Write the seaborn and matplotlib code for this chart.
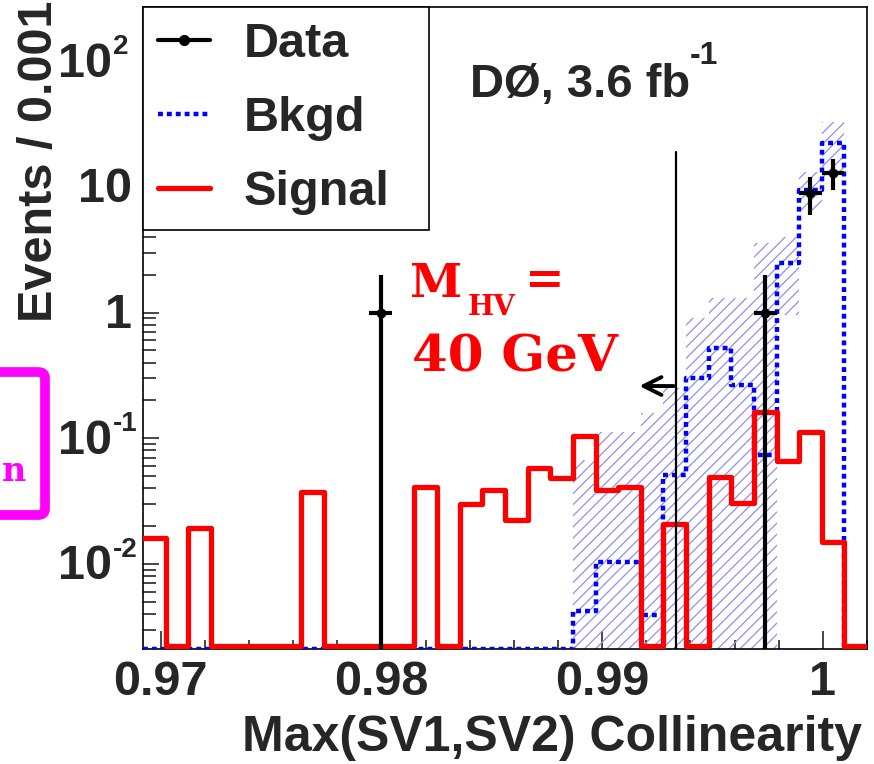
import numpy as np
import pandas as pd
import matplotlib
matplotlib.use("Agg")
import matplotlib.pyplot as plt
from matplotlib.lines import Line2D
from matplotlib.patches import FancyBboxPatch
from matplotlib.transforms import offset_copy
from matplotlib.ticker import FixedLocator, FixedFormatter, MultipleLocator, LogLocator, NullFormatter
import seaborn as sns

# ---- histogram binning -------------------------------------------------
bin_lo, bin_hi, n_bins = 0.9692, 1.002, 32

# ---- per-bin contents (Events / bin) -----------------------------------
signal = [0.016, 0, 0.0192, 0, 0, 0, 0, 0.037, 0, 0, 0, 0, 0.0407, 0, 0.0298, 0.0385,
          0.0222, 0.0577, 0.048, 0.104, 0.039, 0.0407, 0, 0.0207, 0, 0.049, 0.0304, 0.161,
          0.0656, 0.1116, 0.0148, 0]
bkgd = [0, 0, 0, 0, 0, 0, 0, 0, 0, 0, 0, 0, 0, 0, 0, 0,
        0, 0, 0, 0.00425, 0.0103, 0.0103, 0.0039, 0.0507, 0.30, 0.52, 0.264, 0.073,
        2.48, 9.46, 22.4, 0]
bkgd_err_hi = [0, 0, 0, 0, 0, 0, 0, 0, 0, 0, 0, 0, 0, 0, 0, 0,
               0, 0, 0, 0.067, 0.112, 0.112, 0.158, 0.25, 0.90, 1.3, 1.3, 3.6,
               4.0, 13.2, 33.0, 0]
bkgd_err_lo = [0, 0, 0, 0, 0, 0, 0, 0, 0, 0, 0, 0, 0, 0, 0, 0,
               0, 0, 0, 0, 0, 0, 0, 0, 0, 0, 0, 0,
               0.955, 6.6, 11.8, 0]
data = [0, 0, 0, 0, 0, 0, 0, 0, 0, 0, 1, 0, 0, 0, 0, 0,
        0, 0, 0, 0, 0, 0, 0, 0, 0, 0, 0, 1, 0, 9, 13, 0]

x_ticks = [0.97, 0.98, 0.99, 1.0]
x_tick_labels = ["0.97", "0.98", "0.99", "1"]
y_ticks = [1e-2, 1e-1, 1, 10, 100]
y_tick_base = ["10", "10", "1", "10", "10"]
y_tick_exp = ["-2", "-1", "", "", "2"]
y_range = (2.1e-3, 2.7e2)

cut_value = 0.99336
cut_top = 19.0
arrow_tip = 0.99156
arrow_level = 0.26

# ---- style -------------------------------------------------------------
sns.set_style("ticks", {"xtick.direction": "in", "ytick.direction": "in"})
plt.rcParams["font.family"] = ["Liberation Sans", "DejaVu Sans"]
plt.rcParams["font.weight"] = "bold"
plt.rcParams["hatch.linewidth"] = 0.9

W, H = 874, 764
fig = plt.figure(figsize=(W / 100, H / 100), dpi=100)
ax = fig.add_axes([143 / W, 1 - 649 / H, (867 - 143) / W, (649 - 7) / H])
ax.set_yscale("log")

edges = np.linspace(bin_lo, bin_hi, n_bins + 1)
centers = 0.5 * (edges[:-1] + edges[1:])
width = edges[1] - edges[0]

sig = np.array(signal, float)
bkg = np.array(bkgd, float)
ehi = np.array(bkgd_err_hi, float)
elo = np.array(bkgd_err_lo, float)
dat = np.array(data, float)

ymin = y_range[0]


def step_frame(values, floor):
    """Bin contents as a step outline over the bin edges; empty bins lie on the floor."""
    v = np.where(values > 0, values, floor)
    return pd.DataFrame({"edge": edges, "content": np.append(v, v[-1])})


# background uncertainty band (hatched)
hi_plot = np.where(ehi > 0, ehi, 1e-5)
lo_plot = np.where(elo > 0, elo, 1e-5)
ax.fill_between(edges, np.append(lo_plot, lo_plot[-1]), np.append(hi_plot, hi_plot[-1]),
                step="post", facecolor="none", edgecolor="#8f8ff0", hatch="///",
                linewidth=0, zorder=1)

# background and signal histograms
sns.lineplot(data=step_frame(bkg, ymin), x="edge", y="content", drawstyle="steps-post",
             color="#0000ff", linewidth=3.2, linestyle=(0, (1.1, 0.9)), errorbar=None,
             ax=ax, zorder=3)
sns.lineplot(data=step_frame(sig, ymin * 1.05), x="edge", y="content",
             drawstyle="steps-post", color="#ff0000", linewidth=3.8, errorbar=None,
             ax=ax, zorder=4)

# cut line with arrow
ax.plot([cut_value, cut_value], [1e-5, cut_top], color="black", lw=1.6, zorder=5)
ax.annotate("", xy=(arrow_tip, arrow_level), xytext=(cut_value, arrow_level),
            arrowprops=dict(arrowstyle="->", lw=2.8, color="black", mutation_scale=32),
            zorder=6)

# data points
m = dat > 0
err = np.sqrt(dat[m])
low = dat[m] - np.maximum(dat[m] - err, 1e-5)
ax.errorbar(centers[m], dat[m], yerr=[low, err], xerr=width / 2, fmt="o", ms=6,
            color="black", lw=3, capsize=0, zorder=7)

ax.set_xlim(bin_lo, bin_hi)
ax.set_ylim(*y_range)

# axes decoration
ax.xaxis.set_major_locator(FixedLocator(x_ticks))
ax.xaxis.set_major_formatter(FixedFormatter(x_tick_labels))
ax.xaxis.set_minor_locator(MultipleLocator(0.002))
ax.yaxis.set_major_locator(FixedLocator(y_ticks))
ax.yaxis.set_major_formatter(NullFormatter())
ax.yaxis.set_minor_locator(LogLocator(base=10, subs=np.arange(2, 10)))
ax.yaxis.set_minor_formatter(NullFormatter())
ax.tick_params(axis="x", which="major", length=13, width=1.2, pad=8, labelsize=35)
ax.tick_params(axis="x", which="minor", length=6.5, width=1.2)
ax.tick_params(axis="y", which="major", length=11.5, width=1.2)
ax.tick_params(axis="y", which="minor", length=9, width=1.2)
for s in ax.spines.values():
    s.set_visible(True)
    s.set_color("black")
    s.set_linewidth(1.2)

# y tick labels: base number with a small raised exponent
ytrans = ax.get_yaxis_transform()
for val, base, expo in zip(y_ticks, y_tick_base, y_tick_exp):
    if expo:
        t_base = offset_copy(ytrans, fig=fig, x=-31, y=-3, units="dots")
        ax.text(0, val, base, transform=t_base, ha="right", va="center", fontsize=35,
                clip_on=False)
        t_exp = offset_copy(ytrans, fig=fig, x=-30, y=14, units="dots")
        ax.text(0, val, expo, transform=t_exp, ha="left", va="center", fontsize=20,
                clip_on=False)
    else:
        t_base = offset_copy(ytrans, fig=fig, x=-11, y=-3, units="dots")
        ax.text(0, val, base, transform=t_base, ha="right", va="center", fontsize=35,
                clip_on=False)

ax.set_xlabel("")
ax.set_ylabel("")
fig.text(862 / W, 1 - 738 / H, "Max(SV1,SV2) Collinearity", ha="right", va="center",
         fontsize=36, fontweight="bold")
fig.text(40 / W, 1 - 322 / H, "Events / 0.001", rotation=90, ha="center", va="bottom",
         fontsize=35, fontweight="bold")

# legend
handles = [
    Line2D([], [], color="black", lw=3, marker="o", ms=7),
    Line2D([], [], color="#0000ff", lw=3.2, linestyle=(0, (1.1, 0.9))),
    Line2D([], [], color="#ff0000", lw=3.8),
]
leg = ax.legend(handles, ["Data", "Bkgd", "Signal"], loc="upper left",
                bbox_to_anchor=(0, 0, (429 - 143) / 724, 1), mode="expand",
                borderaxespad=0, fontsize=35, handlelength=1.07, handletextpad=0.7,
                labelspacing=0.6, borderpad=0.3, frameon=True, fancybox=False,
                framealpha=1, edgecolor="black")
leg.get_frame().set_linewidth(1.2)
leg.set_zorder(10)

# annotations
fig.text(470 / W, 1 - 97 / H, "DØ, 3.6 fb", ha="left", va="baseline",
         fontsize=34, fontweight="bold")
fig.text(690 / W, 1 - 64 / H, "-1", ha="left", va="baseline",
         fontsize=23, fontweight="bold")
serif = dict(family="DejaVu Serif", fontweight="bold", color="#ff0000")
fig.text(410 / W, 1 - 297 / H, "M", ha="left", va="baseline", fontsize=34, **serif)
fig.text(468 / W, 1 - 315 / H, "HV", ha="left", va="baseline", fontsize=20, **serif)
fig.text(525 / W, 1 - 294 / H, "=", ha="left", va="baseline", fontsize=34, **serif)
fig.text(412 / W, 1 - 372 / H, "40 GeV", ha="left", va="baseline", fontsize=37, **serif)

# partially visible framed label at the left margin
box = FancyBboxPatch((-60 / W, 1 - 515 / H), (45 + 60) / W, (515 - 372) / H,
                     boxstyle="round,pad=0,rounding_size=0.008", transform=fig.transFigure,
                     facecolor="none", edgecolor="#ff00ff", linewidth=7, clip_on=False)
fig.patches.append(box)
fig.text(26 / W, 1 - 481 / H, "n", ha="right", va="baseline", fontsize=24,
         family="DejaVu Serif", fontweight="bold", color="#ff00ff")

fig.savefig("out.png", dpi=100)
